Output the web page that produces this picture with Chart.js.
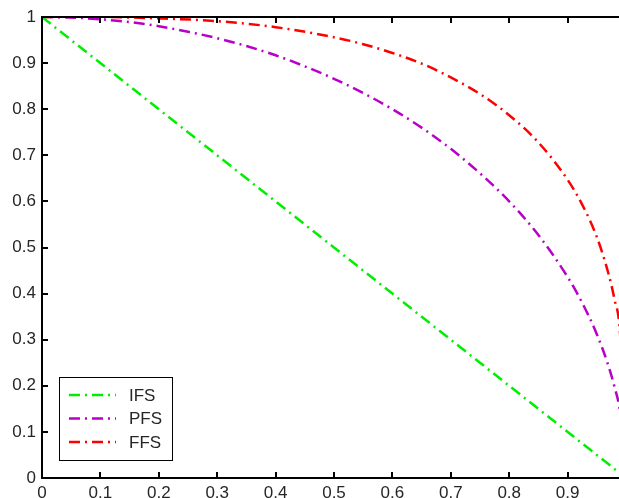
<!DOCTYPE html>
<html>
<head>
<meta charset="utf-8">
<script src="https://cdn.jsdelivr.net/npm/chart.js@4.4.0/dist/chart.umd.min.js"></script>
<style>
  html, body { margin: 0; padding: 0; background: #fff; overflow: hidden; }
  #wrap { width: 619px; height: 498px; overflow: hidden; position: relative; }
  #box { width: 640px; height: 498px; position: absolute; left: 0; top: 0; }
</style>
</head>
<body>
<div id="wrap"><div id="box"><canvas id="c"></canvas></div></div>
<script>
// 数据
const seriesNames = ['IFS', 'PFS', 'FFS'];
const seriesColors = ['#00ee00', '#b800c8', '#ff0000'];

const xIFS = [0, 0.25, 0.5, 0.75, 1];
const yIFS = [1, 0.75, 0.5, 0.25, 0];

const xPFS = [0, 0.05, 0.1, 0.15, 0.2, 0.25, 0.3, 0.35, 0.4, 0.45, 0.5, 0.55, 0.6, 0.65, 0.7, 0.75, 0.8, 0.85, 0.9, 0.925, 0.95, 0.97, 0.98, 0.99, 1];
const yPFS = [1, 0.999, 0.995, 0.989, 0.98, 0.968, 0.954, 0.937, 0.917, 0.893, 0.866, 0.835, 0.8, 0.76, 0.714, 0.661, 0.6, 0.527, 0.436, 0.38, 0.312, 0.243, 0.199, 0.141, 0];

const xFFS = [0, 0.1, 0.2, 0.3, 0.4, 0.5, 0.55, 0.6, 0.65, 0.7, 0.75, 0.8, 0.85, 0.9, 0.925, 0.95, 0.97, 0.98, 0.99, 1];
const yFFS = [1, 1, 0.997, 0.991, 0.978, 0.956, 0.941, 0.922, 0.899, 0.869, 0.833, 0.787, 0.728, 0.647, 0.593, 0.523, 0.443, 0.389, 0.31, 0];

const xTicks = [0, 0.1, 0.2, 0.3, 0.4, 0.5, 0.6, 0.7, 0.8, 0.9, 1];
const yTicks = [0, 0.1, 0.2, 0.3, 0.4, 0.5, 0.6, 0.7, 0.8, 0.9, 1];

Chart.defaults.font.family = '"Liberation Sans", Arial, sans-serif';
Chart.defaults.font.size = 17;
Chart.defaults.color = '#262626';

function toPoints(xs, ys) {
    return xs.map((x, i) => ({ x: x, y: ys[i] }));
}

const dashDot = [11, 5, 2, 5];

// 坐标框、内向刻度和图例
const matlabAxes = {
    id: 'matlabAxes',
    afterDraw(chart) {
        const ctx = chart.ctx;
        const a = chart.chartArea;
        const xs = chart.scales.x, ys = chart.scales.y;
        ctx.save();
        ctx.strokeStyle = '#000';
        ctx.lineWidth = 2;
        ctx.strokeRect(a.left, a.top, a.right - a.left, a.bottom - a.top);
        ctx.beginPath();
        xTicks.forEach(v => {
            const px = Math.round(xs.getPixelForValue(v));
            ctx.moveTo(px, a.bottom); ctx.lineTo(px, a.bottom - 6);
            ctx.moveTo(px, a.top); ctx.lineTo(px, a.top + 6);
        });
        yTicks.forEach(v => {
            const py = Math.round(ys.getPixelForValue(v));
            ctx.moveTo(a.left, py); ctx.lineTo(a.left + 6, py);
            ctx.moveTo(a.right, py); ctx.lineTo(a.right - 6, py);
        });
        ctx.stroke();

        // 图例
        const lx = 59, ly = 377, lw = 113, lh = 83;
        ctx.fillStyle = '#fff';
        ctx.fillRect(lx, ly, lw, lh);
        ctx.lineWidth = 1;
        ctx.strokeStyle = '#000';
        ctx.strokeRect(lx + 0.5, ly + 0.5, lw, lh);
        ctx.font = '17px "Liberation Sans", Arial, sans-serif';
        ctx.textBaseline = 'middle';
        chart.data.datasets.forEach((ds, i) => {
            const y = 395 + i * 23.5;
            ctx.strokeStyle = ds.borderColor;
            ctx.lineWidth = 2.5;
            ctx.setLineDash(dashDot);
            ctx.beginPath();
            ctx.moveTo(69, y); ctx.lineTo(116, y);
            ctx.stroke();
            ctx.setLineDash([]);
            ctx.fillStyle = '#262626';
            ctx.fillText(ds.label, 129, y + 1);
        });
        ctx.restore();
    }
};

const datasets = [
    toPoints(xIFS, yIFS),
    toPoints(xPFS, yPFS),
    toPoints(xFFS, yFFS)
].map((pts, i) => ({
    label: seriesNames[i],
    data: pts,
    borderColor: seriesColors[i],
    borderWidth: 2.5,
    borderDash: dashDot,
    showLine: true,
    pointRadius: 0,
    tension: 0.4,
    cubicInterpolationMode: 'monotone',
    fill: false
}));

new Chart(document.getElementById('c'), {
    type: 'scatter',
    data: { datasets: datasets },
    options: {
        responsive: true,
        maintainAspectRatio: false,
        animation: false,
        layout: { padding: { top: 17, right: 14, left: 0, bottom: 0 } },
        plugins: { legend: { display: false }, tooltip: { enabled: false } },
        scales: {
            x: {
                type: 'linear', min: 0, max: 1,
                grid: { display: false, drawTicks: false }, border: { display: false },
                ticks: {
                    padding: 5, maxRotation: 0, autoSkip: false,
                    callback: v => String(Math.round(v * 10) / 10)
                },
                afterBuildTicks: s => { s.ticks = xTicks.map(v => ({ value: v })); },
                afterFit: s => { s.height = 20; }
            },
            y: {
                type: 'linear', min: 0, max: 1,
                grid: { display: false, drawTicks: false }, border: { display: false },
                ticks: {
                    padding: 6, autoSkip: false,
                    callback: v => String(Math.round(v * 10) / 10)
                },
                afterBuildTicks: s => { s.ticks = yTicks.map(v => ({ value: v })); },
                afterFit: s => { s.width = 42; }
            }
        }
    },
    plugins: [matlabAxes]
});
</script>
</body>
</html>
